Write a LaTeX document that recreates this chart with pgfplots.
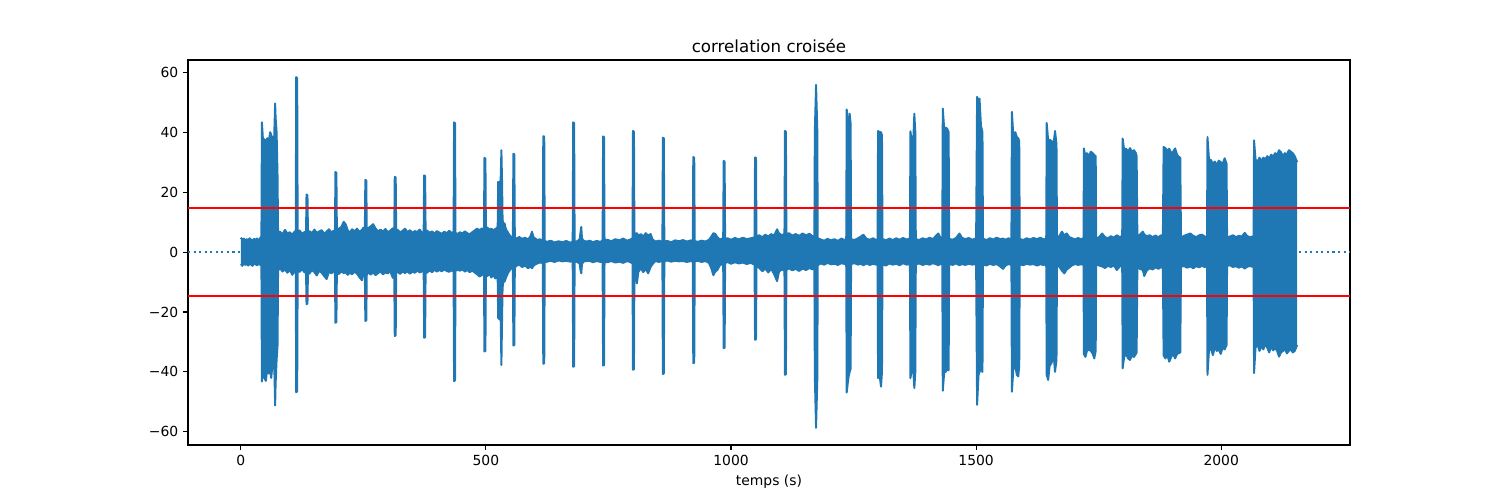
\documentclass[border=0pt]{standalone}
\usepackage{fontspec}
\setmainfont{DejaVu Sans}
\usepackage{pgfplots}
\usepackage{pgfplotstable}
\pgfplotsset{compat=1.18}
\usepgfplotslibrary{fillbetween}
\definecolor{mplblue}{HTML}{1F77B4}
\pgfplotstableread{
x hi lo
0 4.8 -4.0
3 4.2 -4.6
6 4.5 -3.8
9 3.9 -4.3
12 4.3 -4.0
15 4.0 -4.5
18 4.6 -3.9
21 4.1 -4.2
24 3.8 -4.6
27 4.4 -3.7
30 4.0 -4.1
33 4.5 -4.4
36 3.9 -3.9
39 4.6 -4.3
42 5.2 -4.0
43 43.3 -43.2
45 38.0 -37.0
48 37.5 -42.0
51 37.0 -43.0
54 38.0 -39.0
57 37.0 -40.5
60 40.0 -40.0
62 39.0 -42.0
65 38.0 -37.0
68 38.0 -36.0
70 49.6 -51.2
71 45.0 -44.0
73 40.0 -36.0
75 25.0 -31.0
76 6.5 -6.2
80 6.8 -5.4
85 5.9 -6.5
90 7.4 -5.8
95 6.2 -6.9
100 6.6 -6.0
105 5.8 -7.6
110 6.9 -6.3
112 6.4 -5.9
113 58.4 -46.8
115 58.0 -46.5
116 6.1 -6.2
120 7.2 -6.6
125 6.0 -5.7
130 6.7 -6.8
133 6.3 -6.1
134 19.2 -17.4
136 19.0 -17.2
137 6.5 -6.4
140 7.0 -7.2
145 6.2 -6.0
150 7.5 -6.7
155 6.4 -7.8
160 6.9 -6.2
165 7.3 -6.9
170 6.1 -8.0
175 6.8 -9.0
180 7.6 -6.5
185 6.5 -7.1
189 7.1 -6.3
192 6.6 -6.9
193 26.7 -23.6
195 26.5 -23.4
196 6.9 -6.6
200 7.8 -7.3
205 8.4 -6.5
210 10.1 -7.0
214 9.2 -6.8
218 7.3 -7.6
222 6.5 -6.9
227 7.6 -7.4
232 6.9 -6.6
237 7.8 -7.2
242 6.7 -8.4
247 7.4 -9.4
250 8.1 -7.0
253 7.6 -6.7
254 24.1 -23.0
256 23.9 -22.8
257 7.2 -7.1
260 8.0 -6.9
265 8.6 -7.5
270 9.3 -6.8
275 7.8 -7.7
280 6.9 -7.0
285 7.5 -6.5
290 6.8 -7.4
295 7.7 -6.8
300 6.6 -7.1
305 7.2 -6.4
310 7.9 -8.6
313 7.0 -7.0
314 25.1 -28.0
316 24.9 -27.8
317 6.8 -6.9
320 7.4 -6.6
325 6.5 -7.3
330 7.1 -6.5
335 7.8 -7.0
340 6.6 -6.4
345 7.3 -7.2
350 6.4 -6.5
355 7.0 -6.9
360 6.7 -6.2
365 7.5 -6.8
370 6.3 -6.4
373 6.9 -6.6
374 25.6 -28.6
376 25.4 -28.4
377 6.6 -6.3
380 7.2 -6.9
385 6.4 -6.1
390 6.9 -6.7
395 6.2 -5.9
400 7.0 -6.5
405 6.5 -6.0
410 6.1 -6.4
415 6.8 -5.8
420 6.3 -6.3
425 7.1 -6.6
430 6.4 -6.1
434 6.7 -6.5
435 43.3 -43.1
437 43.0 -42.8
438 6.4 -6.3
442 6.0 -5.9
447 6.6 -6.2
452 6.2 -5.8
457 6.9 -6.5
462 6.3 -6.0
467 5.9 -6.7
472 6.6 -6.2
477 7.2 -6.8
482 7.8 -7.4
487 7.3 -8.2
492 7.9 -7.6
496 7.4 -7.3
497 31.4 -33.2
499 31.2 -33.0
500 7.6 -7.5
503 8.2 -8.0
507 7.5 -7.2
511 7.8 -8.5
515 7.2 -7.6
519 7.7 -8.8
522 8.0 -8.5
524 8.5 -9.0
525 23.4 -22.0
528 23.0 -22.5
530 24.0 -21.0
531.6 34.0 -37.7
533 23.0 -22.0
534 11.0 -12.0
536 8.5 -9.0
538 9.6 -9.9
541 7.5 -8.5
545 6.5 -7.0
549 5.5 -6.0
553 4.8 -5.0
555 5.0 -5.2
556 32.8 -31.2
558 32.6 -31.0
559 4.8 -5.2
562 4.5 -4.6
568 5.0 -4.2
574 4.4 -5.0
580 4.8 -4.5
586 4.2 -5.4
591 5.3 -4.8
594 6.8 -5.4
597 5.0 -4.6
600 4.6 -4.2
605 4.0 -3.8
610 4.3 -3.5
614 3.8 -3.6
616 3.7 -3.3
617 38.7 -37.3
619 38.5 -37.1
620 3.7 -3.4
625 3.4 -3.2
632 3.8 -2.9
640 3.2 -3.3
648 3.6 -2.8
656 3.3 -3.1
664 3.7 -2.9
672 3.1 -3.2
677 3.5 -3.0
678 43.3 -38.3
680 43.0 -38.1
681 3.4 -3.1
686 3.6 -3.3
691 4.2 -3.8
693 6.5 -6.0
694.5 8.4 -7.1
696 4.6 -4.0
699 3.8 -3.2
705 3.5 -3.0
712 3.8 -2.9
718 3.3 -3.4
726 3.7 -3.0
734 3.4 -3.3
738 3.9 -3.1
739 38.6 -37.9
741 38.4 -37.7
742 3.8 -3.2
748 4.1 -3.4
756 3.6 -3.0
764 4.3 -3.5
772 3.9 -3.2
780 4.5 -3.6
788 3.8 -3.0
795 4.2 -3.4
799 4.6 -3.8
800 40.4 -39.3
802 40.2 -39.1
803 5.0 -4.5
806 6.2 -7.5
808 6.3 -10.5
811 5.4 -6.6
816 6.0 -5.4
821 5.2 -6.7
826 6.3 -5.6
831 5.5 -7.1
836 6.0 -5.0
840 4.2 -4.0
846 3.5 -3.0
853 3.8 -3.3
860 3.4 -2.9
861 38.2 -40.7
863 38.0 -40.5
864 3.5 -3.1
870 3.7 -2.8
878 3.3 -3.2
886 3.9 -2.9
894 3.6 -3.1
902 4.0 -3.0
910 3.5 -3.3
918 3.9 -3.0
922 3.6 -3.2
923 31.7 -37.1
925 31.5 -36.9
926 3.7 -3.1
932 3.4 -2.9
940 3.8 -3.3
948 3.5 -3.0
955 4.1 -3.6
960 5.2 -5.5
964 6.3 -7.7
968 6.0 -6.5
972 5.0 -6.0
977 4.2 -4.5
982 4.5 -3.9
984 4.0 -3.6
985 30.4 -32.1
987 30.2 -31.9
988 4.2 -3.7
993 4.6 -3.3
1000 4.1 -3.9
1008 4.7 -3.4
1016 4.2 -3.8
1024 4.8 -3.5
1032 4.3 -4.0
1040 4.6 -3.6
1048 4.9 -4.2
1049 31.6 -29.3
1051 31.4 -29.1
1052 5.0 -4.4
1057 5.6 -5.2
1064 5.0 -6.4
1070 5.8 -5.5
1076 5.2 -6.8
1082 6.0 -5.6
1088 5.5 -7.4
1094 7.6 -9.7
1098 6.2 -6.5
1104 5.6 -5.8
1109 6.1 -6.2
1110 40.4 -41.0
1112 40.2 -40.8
1113 5.8 -6.0
1118 6.3 -5.4
1125 5.5 -6.1
1132 6.0 -5.6
1139 5.4 -6.3
1146 6.2 -5.5
1153 5.6 -6.0
1160 6.1 -5.3
1166 5.3 -5.8
1170 5.0 -5.0
1171 40.5 -41.6
1173.5 55.8 -58.7
1176 41.0 -43.0
1177 4.6 -4.4
1183 4.2 -3.8
1190 3.8 -4.2
1197 4.4 -3.6
1204 3.9 -4.1
1211 4.3 -3.9
1218 3.7 -4.3
1225 4.5 -3.7
1232 4.0 -4.0
1235 4.2 -3.8
1236 47.6 -46.9
1238 44.0 -44.0
1240 41.0 -41.5
1242 46.2 -40.0
1244 43.0 -39.0
1245 4.3 -4.0
1252 4.0 -3.7
1259 4.6 -4.2
1265 5.2 -3.9
1270 5.8 -4.4
1276 4.5 -3.8
1283 4.1 -4.3
1290 4.6 -3.9
1296 4.0 -4.2
1299 4.3 -4.0
1300 40.4 -42.1
1303 40.0 -41.0
1306 40.0 -44.9
1308 39.0 -40.0
1309 4.4 -4.1
1316 3.9 -4.5
1323 4.5 -3.8
1330 4.0 -4.2
1337 4.6 -3.9
1344 4.1 -4.4
1351 4.7 -3.7
1358 4.2 -4.2
1365 4.5 -4.0
1366 40.3 -42.1
1369 37.0 -39.0
1372 38.0 -40.0
1374 46.2 -45.4
1376 40.0 -40.0
1377 4.3 -4.1
1384 4.0 -3.8
1391 4.6 -4.3
1398 4.2 -3.9
1405 4.8 -4.2
1412 4.3 -3.7
1419 5.6 -4.1
1423 6.2 -4.4
1427 4.9 -3.9
1431 4.5 -4.2
1432 47.9 -46.3
1435 41.0 -40.0
1438 41.5 -40.0
1441 41.2 -39.0
1444 40.0 -39.5
1445 4.4 -4.0
1452 4.1 -4.3
1459 4.7 -3.8
1466 6.2 -4.4
1471 4.8 -4.0
1478 4.3 -4.3
1485 4.7 -3.9
1492 4.1 -4.2
1500 4.6 -4.0
1502 51.8 -51.0
1505 50.5 -41.0
1507 51.2 -40.0
1510 42.0 -39.0
1513 40.0 -40.0
1514 4.5 -4.2
1521 4.0 -4.5
1528 4.6 -3.9
1535 4.2 -4.3
1542 4.8 -4.0
1549 4.3 -4.8
1555 4.5 -5.6
1560 4.1 -4.5
1566 4.6 -4.0
1572 4.2 -4.3
1573 46.8 -46.6
1576 38.5 -39.0
1580 40.0 -38.0
1583 38.4 -41.0
1586 38.0 -41.5
1588 37.0 -38.0
1589 4.4 -4.1
1596 4.0 -4.4
1603 4.6 -3.9
1610 4.2 -4.2
1617 4.7 -4.0
1624 4.3 -4.5
1631 4.8 -4.1
1638 4.2 -4.3
1643 4.5 -4.0
1644 43.1 -41.0
1647 37.3 -42.7
1650 37.5 -38.0
1654 37.0 -37.0
1658 36.0 -34.0
1661 40.4 -40.0
1664 36.0 -36.0
1665 4.6 -4.2
1670 5.4 -5.0
1675 6.8 -6.2
1680 5.6 -7.1
1685 6.2 -5.8
1690 5.0 -5.2
1696 4.6 -4.4
1702 4.2 -4.0
1708 4.7 -4.3
1714 4.3 -4.1
1719 4.5 -4.2
1720 34.6 -34.1
1723 31.5 -35.0
1726 33.0 -33.0
1730 32.0 -32.5
1734 33.5 -33.0
1738 33.0 -34.0
1741 32.4 -35.5
1744 32.0 -33.0
1745 4.4 -4.0
1751 5.0 -4.5
1757 6.2 -4.8
1763 5.0 -5.3
1769 4.6 -4.6
1775 5.3 -5.0
1781 4.8 -4.4
1787 5.6 -6.0
1793 5.0 -4.8
1798 5.4 -4.6
1799 37.9 -38.8
1802 34.0 -35.0
1806 34.5 -34.0
1810 33.5 -35.5
1814 34.7 -36.0
1818 33.4 -34.5
1822 34.0 -35.0
1826 33.0 -34.0
1827.5 32.0 -33.5
1829 5.2 -5.0
1834 5.8 -5.6
1840 6.8 -6.0
1843 5.9 -8.0
1848 5.3 -6.2
1854 5.6 -5.4
1860 5.0 -5.8
1866 5.5 -5.1
1872 4.9 -5.6
1877 5.6 -5.0
1881 5.2 -5.4
1882.5 35.1 -34.5
1886 34.7 -35.5
1890 33.8 -34.3
1894 34.5 -36.6
1898 33.0 -35.0
1902 33.5 -34.0
1906 34.6 -35.5
1910 32.5 -34.0
1914 31.7 -33.7
1916.5 31.5 -33.5
1918 4.8 -5.0
1924 5.4 -4.6
1930 5.8 -5.2
1937 6.2 -4.8
1943 5.4 -5.4
1949 5.0 -4.7
1955 5.6 -5.1
1961 5.8 -4.6
1966 5.2 -5.0
1971 5.0 -4.8
1972 38.4 -41.0
1975 31.0 -33.0
1979 30.7 -32.0
1983 29.5 -34.4
1987 30.2 -31.7
1991 29.0 -33.0
1995 30.5 -32.5
1999 30.0 -34.0
2003 29.5 -31.8
2007 31.3 -32.5
2011 29.5 -31.0
2012 4.8 -4.6
2018 5.2 -4.4
2024 5.6 -5.0
2030 5.0 -4.7
2036 5.4 -5.2
2042 5.2 -4.8
2048 6.4 -5.5
2052 5.5 -5.0
2058 4.9 -4.6
2063 5.2 -4.9
2066 5.0 -4.7
2067 37.3 -40.4
2070 31.0 -32.0
2074 30.0 -30.7
2078 31.5 -33.0
2082 30.4 -31.5
2086 31.5 -32.5
2090 31.0 -30.5
2094 32.0 -32.0
2098 31.2 -33.5
2102 32.5 -31.5
2106 31.8 -32.8
2110 33.0 -32.0
2114 32.4 -33.0
2118 34.0 -34.9
2122 33.3 -33.5
2126 32.0 -33.0
2130 33.0 -32.5
2134 32.5 -33.8
2138 34.0 -33.0
2142 33.5 -32.5
2146 33.0 -33.5
2150 32.0 -33.0
2155 30.0 -31.0
}\sig
\begin{document}
\begin{tikzpicture}
\begin{axis}[
  at={(135.36pt,39.6pt)}, anchor=south west,
  scale only axis, width=836.64pt, height=277.2pt,
  xmin=-107.75, xmax=2262.75, ymin=-64.4, ymax=64.1,
  xtick={0,500,1000,1500,2000},
  xticklabels={0,500,1000,1500,2000},
  ytick={-60,-40,-20,0,20,40,60},
  yticklabels={−60,−40,−20,0,20,40,60},
  /pgf/number format/assume math mode=true,
  tick align=outside, xtick pos=bottom, ytick pos=left,
  major tick length=3.5pt,
  every tick/.style={black, line width=0.8pt},
  axis line style={line width=0.8pt},
  tick label style={font=\fontsize{10}{12}\selectfont},
  title={correlation croisée},
  title style={at={(0.5,1)}, anchor=base, yshift=-0.5pt, font=\fontsize{12}{14}\selectfont},
  xlabel={temps (s)},
  xlabel style={at={(0.5,0)}, anchor=base, yshift=-29pt, font=\fontsize{10}{12}\selectfont},
]
\addplot[mplblue, line width=1.5pt, dash pattern=on 1.5pt off 2.5pt] coordinates {(-107.75,0) (2262.75,0)};
\addplot[name path=hi, draw=mplblue, line width=1.4pt, line join=round] table[x=x,y=hi]{\sig};
\addplot[name path=lo, draw=mplblue, line width=1.4pt, line join=round] table[x=x,y=lo]{\sig};
\addplot[mplblue] fill between[of=hi and lo];
\addplot[red, line width=1.5pt] coordinates {(-107.75,14.6) (2262.75,14.6)};
\addplot[red, line width=1.5pt] coordinates {(-107.75,-14.6) (2262.75,-14.6)};
\end{axis}
\path[use as bounding box] (0,0) rectangle (1080pt,360pt);
\end{tikzpicture}
\end{document}
